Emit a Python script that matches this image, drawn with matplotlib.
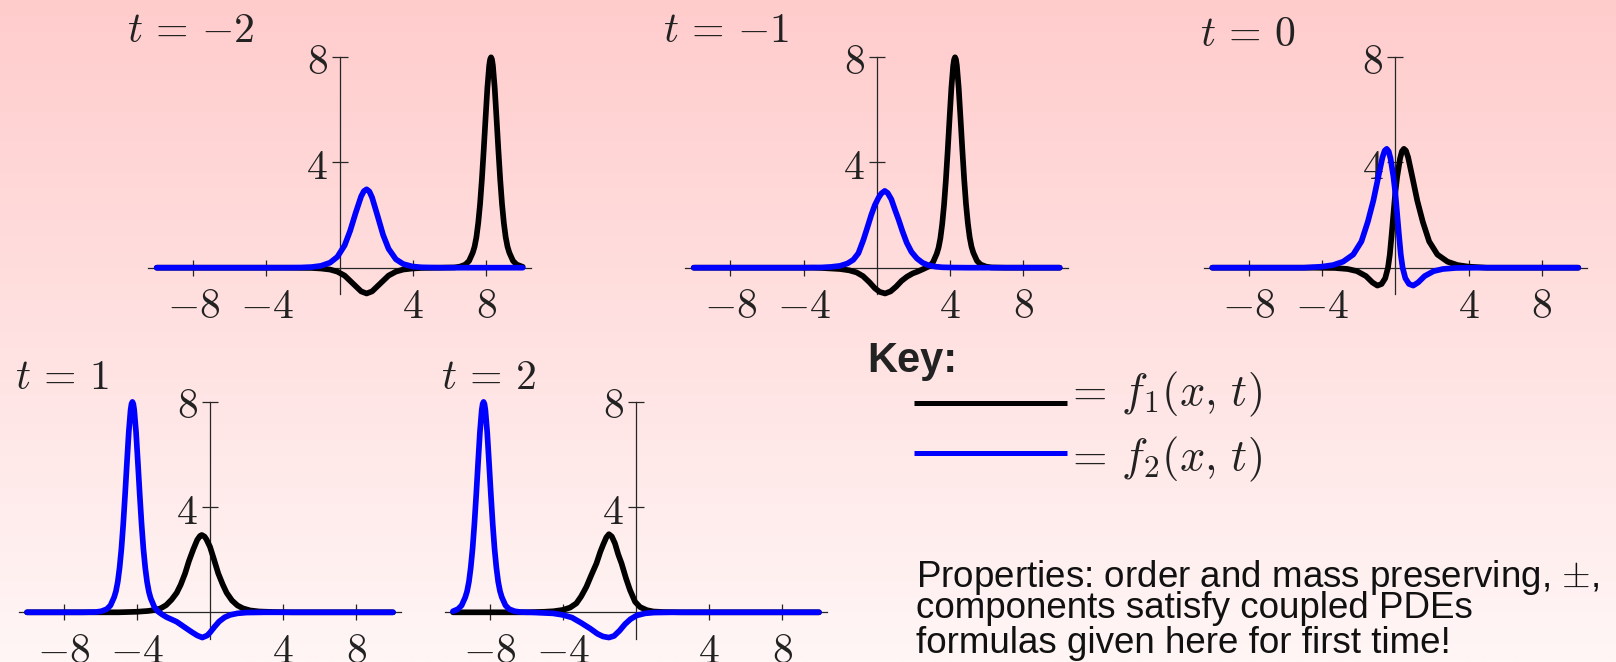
import numpy as np
import matplotlib
matplotlib.use("Agg")
import matplotlib.pyplot as plt
from matplotlib.lines import Line2D

plt.rcParams['mathtext.fontset'] = 'cm'

# ---------------- data ----------------
times = [-2, -1, 0, 1, 2]
title_labels = [r'$t\,=\,{-2}$', r'$t\,=\,{-1}$', r'$t\,=\,0$', r'$t\,=\,1$', r'$t\,=\,2$']
x_ticks = [-8, -4, 4, 8]
x_tick_labels = [r'$-8$', r'$-4$', r'$4$', r'$8$']
y_ticks = [4, 8]
y_tick_labels = [r'$4$', r'$8$']

# f1 = black component, f2 = blue component; (x, y) points per time
f1_tm2 = [(-10, 0), (-3.0, 0), (-1.53, -0.01), (-1.03, -0.03), (-0.53, -0.07), (-0.13, -0.15),
          (0.27, -0.30), (0.57, -0.50), (0.87, -0.70), (1.17, -0.90), (1.47, -0.98), (1.77, -0.90),
          (2.07, -0.70), (2.37, -0.50), (2.67, -0.30), (3.07, -0.15), (3.47, -0.07), (3.97, -0.03),
          (4.47, -0.01), (5.5, 0), (6.27, 0.01), (6.57, 0.04), (6.87, 0.12), (7.07, 0.26), (7.27, 0.57),
          (7.37, 0.80), (7.47, 1.16), (7.57, 1.70), (7.67, 2.42), (7.77, 3.36), (7.87, 4.48), (7.97, 5.68),
          (8.07, 6.84), (8.17, 7.69), (8.22, 7.92), (8.27, 8.0), (8.32, 7.92), (8.37, 7.69), (8.47, 6.84),
          (8.57, 5.68), (8.67, 4.48), (8.77, 3.36), (8.87, 2.42), (8.97, 1.70), (9.07, 1.16), (9.17, 0.80),
          (9.27, 0.57), (9.47, 0.26), (9.67, 0.12), (9.97, 0.04), (10, 0.035)]
f2_tm2 = [(-10, 0), (-3.0, 0), (-2.13, 0.007), (-1.53, 0.025), (-1.03, 0.07), (-0.53, 0.19), (-0.13, 0.41),
          (0.27, 0.85), (0.57, 1.40), (0.87, 2.08), (1.17, 2.71), (1.32, 2.91), (1.47, 2.98), (1.62, 2.90),
          (1.77, 2.67), (2.07, 1.97), (2.37, 1.25), (2.67, 0.72), (3.07, 0.32), (3.47, 0.14), (3.97, 0.046),
          (4.47, 0.015), (5.5, 0), (10, 0)]

f1_tm1 = [(-10, 0), (-3.5, 0), (-3.0, -0.01), (-2.5, -0.03), (-2.0, -0.05), (-1.5, -0.10), (-1.1, -0.18),
          (-0.75, -0.32), (-0.4, -0.55), (-0.1, -0.78), (0.16, -0.92), (0.46, -0.98), (0.76, -0.90),
          (1.06, -0.72), (1.36, -0.50), (1.66, -0.34), (1.96, -0.22), (2.26, -0.14), (2.58, -0.04),
          (2.88, 0.06), (3.08, 0.21), (3.28, 0.53), (3.38, 0.76), (3.48, 1.12), (3.58, 1.66), (3.68, 2.39),
          (3.78, 3.33), (3.88, 4.45), (3.98, 5.66), (4.08, 6.82), (4.18, 7.68), (4.23, 7.91), (4.28, 8.0),
          (4.33, 7.92), (4.38, 7.69), (4.48, 6.84), (4.58, 5.68), (4.68, 4.48), (4.78, 3.36), (4.88, 2.42),
          (4.98, 1.70), (5.08, 1.16), (5.18, 0.80), (5.28, 0.57), (5.48, 0.26), (5.68, 0.12), (5.98, 0.04),
          (6.28, 0.01), (7.0, 0), (10, 0)]
f2_tm1 = [(-10, 0), (-4.0, 0), (-3.0, 0.01), (-2.5, 0.03), (-2.0, 0.07), (-1.6, 0.16), (-1.28, 0.30),
          (-1.0, 0.55), (-0.73, 1.05), (-0.5, 1.55), (-0.3, 2.0), (-0.1, 2.38), (0.1, 2.66), (0.25, 2.82),
          (0.44, 2.92), (0.6, 2.84), (0.8, 2.6), (1.0, 2.2), (1.2, 1.82), (1.4, 1.4), (1.64, 0.95),
          (1.9, 0.6), (2.2, 0.35), (2.5, 0.19), (2.8, 0.10), (3.2, 0.04), (3.6, 0.015), (4.2, 0.005),
          (5.0, 0), (10, 0)]

f1_t0 = [(-10, 0), (-4.5, 0), (-3.3, -0.01), (-2.6, -0.05), (-2.1, -0.13), (-1.6, -0.32), (-1.25, -0.56),
         (-0.98, -0.68), (-0.75, -0.62), (-0.55, -0.40), (-0.4, 0.0), (-0.3, 0.5), (-0.2, 1.25),
         (-0.1, 2.05), (0.0, 2.85), (0.1, 3.45), (0.26, 4.15), (0.36, 4.42), (0.47, 4.52), (0.58, 4.45),
         (0.7, 4.2), (0.93, 3.45), (1.2, 2.55), (1.5, 1.75), (1.85, 1.0), (2.3, 0.5), (2.85, 0.23),
         (3.4, 0.10), (4.0, 0.04), (5.0, 0.0), (10, 0)]
f2_t0 = [(-10, 0), (-5.0, 0.0), (-4.0, 0.04), (-3.4, 0.10), (-2.85, 0.23), (-2.3, 0.5), (-1.85, 1.0),
         (-1.5, 1.75), (-1.2, 2.55), (-0.93, 3.45), (-0.7, 4.2), (-0.58, 4.45), (-0.47, 4.52),
         (-0.36, 4.42), (-0.26, 4.15), (-0.1, 3.45), (0.0, 2.85), (0.1, 2.05), (0.2, 1.25), (0.3, 0.5),
         (0.4, 0.0), (0.55, -0.40), (0.75, -0.62), (0.98, -0.68), (1.25, -0.56), (1.6, -0.32),
         (2.1, -0.13), (2.6, -0.05), (3.3, -0.01), (4.5, 0), (10, 0)]

f1_t1 = [(-10, 0), (-5.0, 0.0), (-4.0, 0.02), (-3.4, 0.05), (-3.0, 0.09), (-2.7, 0.15), (-2.4, 0.27),
         (-2.1, 0.48), (-1.82, 0.74), (-1.6, 1.05), (-1.36, 1.48), (-1.15, 1.95), (-0.91, 2.4),
         (-0.7, 2.75), (-0.55, 2.9), (-0.45, 2.94), (-0.3, 2.88), (-0.2, 2.78), (0.0, 2.49), (0.2, 2.05),
         (0.45, 1.48), (0.7, 1.05), (0.91, 0.74), (1.2, 0.45), (1.5, 0.26), (1.8, 0.15), (2.2, 0.07),
         (2.7, 0.03), (3.5, 0.01), (4.5, 0), (10, 0)]
f2_t1 = [(-10, 0), (-7.0, 0), (-6.24, 0.01), (-5.94, 0.04), (-5.64, 0.12), (-5.44, 0.26), (-5.24, 0.57),
         (-5.14, 0.80), (-5.04, 1.16), (-4.94, 1.70), (-4.84, 2.42), (-4.74, 3.36), (-4.64, 4.48),
         (-4.54, 5.68), (-4.44, 6.84), (-4.34, 7.69), (-4.29, 7.92), (-4.24, 8.0), (-4.19, 7.92),
         (-4.14, 7.69), (-4.04, 6.84), (-3.94, 5.68), (-3.84, 4.48), (-3.74, 3.36), (-3.64, 2.42),
         (-3.54, 1.70), (-3.44, 1.16), (-3.34, 0.78), (-3.24, 0.53), (-3.04, 0.20), (-2.84, 0.03),
         (-2.6, -0.09), (-2.36, -0.19), (-2.1, -0.27), (-1.82, -0.36), (-1.36, -0.58), (-1.0, -0.75),
         (-0.7, -0.88), (-0.42, -0.96), (-0.15, -0.88), (0.0, -0.77), (0.25, -0.55), (0.5, -0.35),
         (0.8, -0.19), (1.1, -0.10), (1.5, -0.04), (2.0, -0.01), (3.0, 0), (10, 0)]

f1_t2 = [(-10, 0), (-6.0, 0), (-5.0, 0.02), (-4.5, 0.04), (-4.0, 0.09), (-3.6, 0.18), (-3.26, 0.34),
         (-3.0, 0.6), (-2.71, 0.97), (-2.45, 1.4), (-2.16, 1.86), (-1.95, 2.3), (-1.79, 2.58),
         (-1.62, 2.85), (-1.48, 2.97), (-1.32, 2.88), (-1.15, 2.62), (-0.97, 2.2), (-0.79, 1.86),
         (-0.55, 1.3), (-0.33, 0.85), (-0.05, 0.4), (0.22, 0.2), (0.6, 0.08), (0.95, 0.03), (1.5, 0.01),
         (2.5, 0), (10, 0)]
f2_t2 = [(-10, 0.04), (-9.73, 0.12), (-9.53, 0.26), (-9.33, 0.57), (-9.23, 0.80), (-9.13, 1.16),
         (-9.03, 1.70), (-8.93, 2.42), (-8.83, 3.36), (-8.73, 4.48), (-8.63, 5.68), (-8.53, 6.84),
         (-8.43, 7.69), (-8.38, 7.92), (-8.33, 8.0), (-8.28, 7.92), (-8.23, 7.69), (-8.13, 6.84),
         (-8.03, 5.68), (-7.93, 4.48), (-7.83, 3.36), (-7.73, 2.42), (-7.63, 1.70), (-7.53, 1.16),
         (-7.43, 0.80), (-7.33, 0.57), (-7.13, 0.26), (-6.93, 0.12), (-6.63, 0.04), (-6.33, 0.01),
         (-5.5, -0.01), (-4.54, -0.04), (-4.0, -0.10), (-3.5, -0.20), (-3.0, -0.40), (-2.5, -0.62),
         (-2.1, -0.82), (-1.8, -0.92), (-1.48, -0.96), (-1.2, -0.90), (-0.9, -0.70), (-0.6, -0.45),
         (-0.3, -0.26), (0.04, -0.12), (0.5, -0.04), (1.0, -0.01), (2.0, 0), (10, 0)]

f1_series = [f1_tm2, f1_tm1, f1_t0, f1_t1, f1_t2]
f2_series = [f2_tm2, f2_tm1, f2_t0, f2_t1, f2_t2]

legend_labels = [r'$=\,f_1(x,\,t)$', r'$=\,f_2(x,\,t)$']
key_title = 'Key:'
properties_lines = [r'Properties: order and mass preserving, $\pm$,',
                    'components satisfy coupled PDEs',
                    'formulas given here for first time!']

# ---------------- layout (pixels) ----------------
W, H, DPI = 1616, 662, 100
fig = plt.figure(figsize=(W / DPI, H / DPI), dpi=DPI)

# background gradient
bg = fig.add_axes([0, 0, 1, 1], zorder=-10)
g = np.linspace(0, 1, 256)[:, None, None]
c_top = np.array([255, 204, 204]) / 255.0
c_bot = np.array([255, 246, 246]) / 255.0
img = c_top * (1 - g) + c_bot * g
img = np.repeat(img, 2, axis=1)
bg.imshow(img, aspect='auto', extent=[0, 1, 0, 1], origin='upper')
bg.axis('off')

SX, SY = 18.3, 26.3
XL = (-10.45, 10.45)
YL = (-1.0, 8.0)
origins = [(339.7, 267.7), (876.7, 267.7), (1395.3, 267.7), (210.0, 612.3), (636.0, 612.3)]
title_pos = [(126.7, 42.3), (663.3, 42.3), (1200.0, 46.0), (15.0, 389.3), (440.7, 389.3)]

AX_COL = '#262626'
TXT_COL = '#222222'
LW = 4.1

for i, t in enumerate(times):
    x0, y0 = origins[i]
    left = x0 + XL[0] * SX
    width = (XL[1] - XL[0]) * SX
    top = y0 - YL[1] * SY
    height = (YL[1] - YL[0]) * SY
    ax = fig.add_axes([left / W, 1 - (top + height) / H, width / W, height / H])
    ax.set_xlim(XL)
    ax.set_ylim(YL)
    ax.patch.set_alpha(0)
    for s in ['top', 'right']:
        ax.spines[s].set_visible(False)
    for s in ['left', 'bottom']:
        ax.spines[s].set_position(('data', 0))
        ax.spines[s].set_color(AX_COL)
        ax.spines[s].set_linewidth(0.9)
    ax.set_xticks(x_ticks)
    ax.set_xticklabels(x_tick_labels)
    ax.set_yticks(y_ticks)
    ax.set_yticklabels(y_tick_labels)
    ax.tick_params(axis='both', direction='inout', length=11.5, width=0.9, color=AX_COL,
                   labelsize=30, labelcolor=TXT_COL)
    ax.tick_params(axis='x', pad=7)
    ax.tick_params(axis='y', pad=3)

    xs1, ys1 = zip(*f1_series[i])
    xs2, ys2 = zip(*f2_series[i])
    ax.plot(xs1, ys1, color='black', lw=LW, solid_capstyle='round', solid_joinstyle='round',
            clip_on=False, zorder=3)
    ax.plot(xs2, ys2, color='#0000ff', lw=LW, solid_capstyle='round', solid_joinstyle='round',
            clip_on=False, zorder=4)

    tx, ty = title_pos[i]
    fig.text(tx / W, 1 - ty / H, title_labels[i], fontsize=30, color=TXT_COL,
             ha='left', va='baseline')

# key
fig.text(867 / W, 1 - 371.7 / H, key_title, fontsize=30, fontweight='bold',
         family='Liberation Sans', color=TXT_COL, ha='left', va='baseline')
leg_y = [402.7, 453.0]
leg_col = ['black', '#0000ff']
leg_text_y = [405.0, 470.0]
for k in range(2):
    fig.add_artist(Line2D([913.5 / W, 1067.4 / W], [1 - leg_y[k] / H] * 2,
                          transform=fig.transFigure, color=leg_col[k], lw=3.6,
                          solid_capstyle='butt'))
    fig.text(1065.0 / W, 1 - leg_text_y[k] / H, legend_labels[k], fontsize=32,
             color=TXT_COL, ha='left', va='baseline')

prop_y = [586.7, 618.3, 653.3]
for k, line in enumerate(properties_lines):
    fig.text(916 / W, 1 - prop_y[k] / H, line, fontsize=26.5, family='Liberation Sans',
             color='#111111', ha='left', va='baseline')

fig.savefig('out.png', dpi=DPI)
